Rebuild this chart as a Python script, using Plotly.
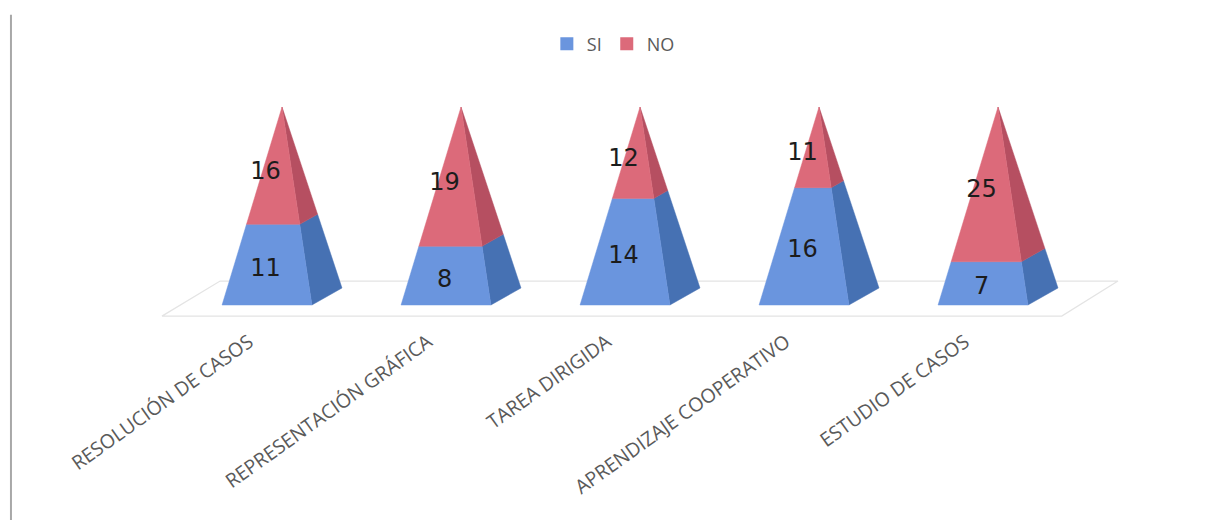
import plotly.graph_objects as go

categories = ["RESOLUCIÓN DE CASOS", "REPRESENTACIÓN GRÁFICA", "TAREA DIRIGIDA",
              "APRENDIZAJE COOPERATIVO", "ESTUDIO DE CASOS"]
si_values = [11, 8, 14, 16, 7]
no_values = [16, 19, 12, 11, 25]

# Pyramid proportions, in axis units (x: one category = 1, y: pyramid height = 1)
HALF_WIDTH = 0.251
DEPTH_X = 0.168
DEPTH_Y = 0.086
APEX_SHIFT = 0.084

SI_FRONT, SI_SIDE = "#6a95de", "#4671b3"
NO_FRONT, NO_SIDE = "#dc6a7a", "#b64f61"
FLOOR = "#e4e4e4"
TEXT = "#5a5a5a"


def along_edge(corner, apex, f):
    return (corner[0] + f * (apex[0] - corner[0]), corner[1] + f * (apex[1] - corner[1]))


def band(i, f0, f1):
    """Front and side outlines of a pyramid slice between height shares f0 and f1."""
    apex = (i + APEX_SHIFT, 1.0)
    left = (i - HALF_WIDTH, 0.0)
    right = (i + HALF_WIDTH, 0.0)
    back = (i + HALF_WIDTH + DEPTH_X, DEPTH_Y)
    front = [along_edge(left, apex, f0), along_edge(right, apex, f0),
             along_edge(right, apex, f1), along_edge(left, apex, f1)]
    side = [along_edge(right, apex, f0), along_edge(back, apex, f0),
            along_edge(back, apex, f1), along_edge(right, apex, f1)]
    return front, side


def collect(polygons):
    xs, ys = [], []
    for poly in polygons:
        xs += [p[0] for p in poly] + [poly[0][0], None]
        ys += [p[1] for p in poly] + [poly[0][1], None]
    return xs, ys


shares = [s / (s + n) for s, n in zip(si_values, no_values)]
si_parts = [band(i, 0, f) for i, f in enumerate(shares)]
no_parts = [band(i, f, 1) for i, f in enumerate(shares)]

fig = go.Figure()

# Floor of the 3D plot
floor_x = [-0.587, -0.262, 4.754, 4.44, -0.587]
floor_y = [-0.056, 0.121, 0.121, -0.056, -0.056]
fig.add_trace(go.Scatter(x=floor_x, y=floor_y, mode="lines", showlegend=False,
                         hoverinfo="skip", line=dict(color=FLOOR, width=1.3)))


def polygon_trace(polys, color, name):
    xs, ys = collect(polys)
    return go.Scatter(x=xs, y=ys, mode="lines", fill="toself", fillcolor=color, name=name,
                      line=dict(color=color, width=0.5), showlegend=False, hoverinfo="skip")


fig.add_trace(polygon_trace([p[1] for p in si_parts], SI_SIDE, "SI side"))
fig.add_trace(polygon_trace([p[1] for p in no_parts], NO_SIDE, "NO side"))
fig.add_trace(polygon_trace([p[0] for p in si_parts], SI_FRONT, "SI front"))
fig.add_trace(polygon_trace([p[0] for p in no_parts], NO_FRONT, "NO front"))

# Square legend keys
for name, color in (("SI", SI_FRONT), ("NO", NO_FRONT)):
    fig.add_trace(go.Scatter(x=[None], y=[None], mode="markers", name=name,
                             marker=dict(symbol="square", size=13, color=color)))

# Value labels sit near the middle of each slice's height, slightly low
SI_DROP = 0.025
NO_DROP = 0.035
label_x = [i - 0.008 for i in range(len(categories))] * 2
label_y = [f / 2 - SI_DROP for f in shares] + [(1 + f) / 2 - NO_DROP for f in shares]
label_text = [str(v) for v in si_values + no_values]
fig.add_trace(go.Scatter(x=label_x, y=label_y, mode="text", text=label_text,
                         textposition="middle center", showlegend=False, hoverinfo="skip",
                         textfont=dict(family="DejaVu Sans", size=24, color="#1c1c1c")))

fig.update_layout(
    width=1205, height=520,
    margin=dict(l=0, r=0, t=0, b=194),
    paper_bgcolor="white", plot_bgcolor="white",
    showlegend=True,
    legend=dict(orientation="h", x=0.509, xanchor="center", y=0.865, yanchor="middle",
                font=dict(family="Open Sans", size=18, color=TEXT),
                itemwidth=30, tracegroupgap=0),
    xaxis=dict(range=[-267 / 179, (1205 - 267) / 179], tickmode="array",
               tickvals=list(range(len(categories))), ticktext=categories,
               tickangle=-35.5, showgrid=False, zeroline=False, showline=False, ticks="",
               ticklabelshift=-18, ticklabelstandoff=0,
               tickfont=dict(family="Open Sans", size=19.5, color=TEXT)),
    yaxis=dict(range=[-21 / 198, 305 / 198], visible=False),
    shapes=[dict(type="line", xref="paper", yref="paper", x0=0.0091, x1=0.0091,
                 y0=-0.595, y1=0.955, line=dict(color="#a8a8a8", width=2))],
)

fig.write_html("out.html")
